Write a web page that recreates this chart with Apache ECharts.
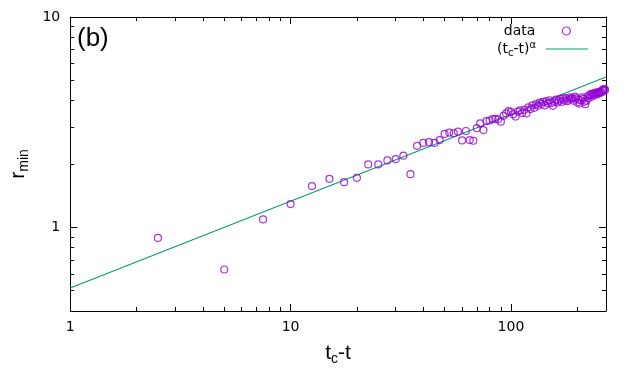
<!DOCTYPE html>
<html>
<head>
<meta charset="utf-8">
<script src="https://cdn.jsdelivr.net/npm/echarts@6/dist/echarts.min.js"></script>
<style>html,body{margin:0;padding:0;background:#fff}#c{width:634px;height:381px}</style>
</head>
<body>
<div id="c"></div>
<script>
// data: t_c - t
const tValues = [2.5,5,7.5,10,12.5,15,17.5,20,22.5,25,27.5,30,32.5,35,37.5,40,42.5,45,47.5,50,
  52.5,55,57.5,60,62.5,65,67.5,70,72.5,75,77.5,80,82.5,85,87.5,90,92.5,95,97.5,100,
  102.5,105,107.5,110,112.5,115,117.5,120,122.5,125,127.5,130,132.5,135,137.5,140,142.5,145,147.5,150,
  152.5,155,157.5,160,162.5,165,167.5,170,172.5,175,177.5,180,182.5,185,187.5,190,192.5,195,197.5,200,
  202.5,205,207.5,210,212.5,215,217.5,220,222.5,225,227.5,230,232.5,235,237.5,240,242.5,245,247.5,250,
  252.5,255,257.5,260,262.5,265,267.5];
// r_min
const rValues = [0.89,0.63,1.09,1.29,1.57,1.70,1.64,1.72,1.99,1.99,2.08,2.11,2.19,1.79,2.44,2.52,2.54,2.52,2.60,2.78,
  2.82,2.80,2.85,2.59,2.87,2.60,2.58,2.96,3.12,2.90,3.20,3.22,3.27,3.28,3.26,3.18,3.39,3.48,3.57,3.54,
  3.45,3.36,3.55,3.60,3.50,3.62,3.48,3.72,3.65,3.80,3.70,3.85,3.78,3.92,3.86,3.95,3.80,3.98,3.88,4.02,
  3.90,3.78,3.95,4.05,3.92,4.00,4.08,3.95,4.10,4.02,4.12,3.98,4.05,4.15,4.08,4.12,4.00,4.18,4.10,3.92,
  4.05,3.88,4.02,4.15,4.08,3.95,3.85,4.00,4.20,4.12,4.25,4.30,4.18,4.32,4.25,4.35,4.28,4.38,4.30,4.40,
  4.35,4.42,4.38,4.50,4.45,4.55,4.50];
// fitted power law (t_c-t)^alpha, endpoints
const fitT = [1, 270];
const fitR = [0.514, 5.18];

const xMajor = [1, 10, 100];
const xMinor = [2,3,4,5,6,7,8,9,20,30,40,50,60,70,80,90,200];
const yMajor = [1, 10];
const yMinor = [0.5,0.6,0.7,0.8,0.9,2,3,4,5,6,7,8,9];
const xMin = 1, xMax = 270, yMin = 0.4, yMax = 10;

const tickFont = {fontFamily: 'DejaVu Sans', fontSize: 14, color: '#000'};
const rich = {
  a: {fontFamily: 'Liberation Sans', fontSize: 21, color: '#000', lineHeight: 26},
  sub: {fontFamily: 'Liberation Sans', fontSize: 14, color: '#000', verticalAlign: 'bottom', lineHeight: 6}
};

function xAx(pos, major, withLabel) {
  const ax = {
    type: 'log', min: xMin, max: xMax, position: pos,
    axisLine: {show: major, lineStyle: {color: '#000', width: 1}},
    axisTick: {show: true, inside: true, length: major ? 7 : 4, customValues: major ? xMajor : xMinor,
      lineStyle: {color: '#000', width: 1}},
    axisLabel: {show: withLabel, customValues: xMajor, margin: 9, formatter: v => String(v), ...tickFont},
    splitLine: {show: false}, minorTick: {show: false}
  };
  if (withLabel) {
    ax.name = '{a|t}{sub|c}{a|-t}';
    ax.nameLocation = 'middle';
    ax.nameGap = 29;
    ax.nameTextStyle = {rich: rich};
  }
  return ax;
}
function yAx(pos, major, withLabel) {
  const ax = {
    type: 'log', min: yMin, max: yMax, position: pos,
    axisLine: {show: major, lineStyle: {color: '#000', width: 1}},
    axisTick: {show: true, inside: true, length: major ? 7 : 4, customValues: major ? yMajor : yMinor,
      lineStyle: {color: '#000', width: 1}},
    axisLabel: {show: withLabel, customValues: yMajor, margin: 10, formatter: v => String(v), ...tickFont},
    splitLine: {show: false}, minorTick: {show: false}
  };
  if (withLabel) {
    ax.name = '{a|r}{sub|min}';
    ax.nameLocation = 'middle';
    ax.nameGap = 36;
    ax.nameRotate = 90;
    ax.nameTextStyle = {rich: rich};
  }
  return ax;
}

const chart = echarts.init(document.getElementById('c'), null, {renderer: 'canvas'});
chart.setOption({
  animation: false,
  backgroundColor: '#fff',
  grid: {left: 67, right: 28, top: 17, bottom: 70, containLabel: false},
  xAxis: [xAx('bottom', true, true), xAx('bottom', false, false), xAx('top', true, false), xAx('top', false, false)],
  yAxis: [yAx('left', true, true), yAx('left', false, false), yAx('right', true, false), yAx('right', false, false)],
  legend: [
    {data: [{name: 'data', icon: 'circle', itemStyle: {color: 'rgba(0,0,0,0)', borderColor: '#9400d3', borderWidth: 1.2}}],
      right: 63, top: 24, padding: 0, orient: 'vertical', align: 'right', itemWidth: 8, itemHeight: 8,
      textStyle: {fontFamily: 'DejaVu Sans', fontSize: 14, color: '#000', padding: [0, 22, 0, 0]}, selectedMode: false},
    {data: [{name: 'fit', icon: 'rect', itemStyle: {color: '#009e73', borderWidth: 0}}],
      right: 46, top: 40, padding: 0, orient: 'vertical', align: 'right', itemWidth: 42, itemHeight: 1.2,
      formatter: () => '{b|(t}{s|c}{b|-t)}{p|α}',
      textStyle: {fontFamily: 'DejaVu Sans', fontSize: 14, color: '#000', padding: [0, 5, 0, 0],
        rich: {
          b: {fontFamily: 'DejaVu Sans', fontSize: 14, color: '#000', lineHeight: 18},
          s: {fontFamily: 'DejaVu Sans', fontSize: 10, color: '#000', verticalAlign: 'bottom', lineHeight: 6},
          p: {fontFamily: 'DejaVu Sans', fontSize: 10, color: '#000', verticalAlign: 'top', lineHeight: 6}
        }}, selectedMode: false}
  ],
  graphic: [{type: 'text', left: 77, top: 26, style: {text: '(b)', font: '26px "Liberation Sans"', fill: '#000'}}],
  series: [
    {name: 'fit', type: 'line', data: fitT.map((t, i) => [t, fitR[i]]), symbol: 'none',
      lineStyle: {color: '#009e73', width: 1.1}, itemStyle: {color: '#009e73'}, clip: true, z: 2},
    {name: 'data', type: 'scatter', data: tValues.map((t, i) => [t, rValues[i]]), symbol: 'circle', symbolSize: 7,
      itemStyle: {color: 'rgba(0,0,0,0)', borderColor: '#9400d3', borderWidth: 1.2}, z: 3}
  ]
});
</script>
</body>
</html>
